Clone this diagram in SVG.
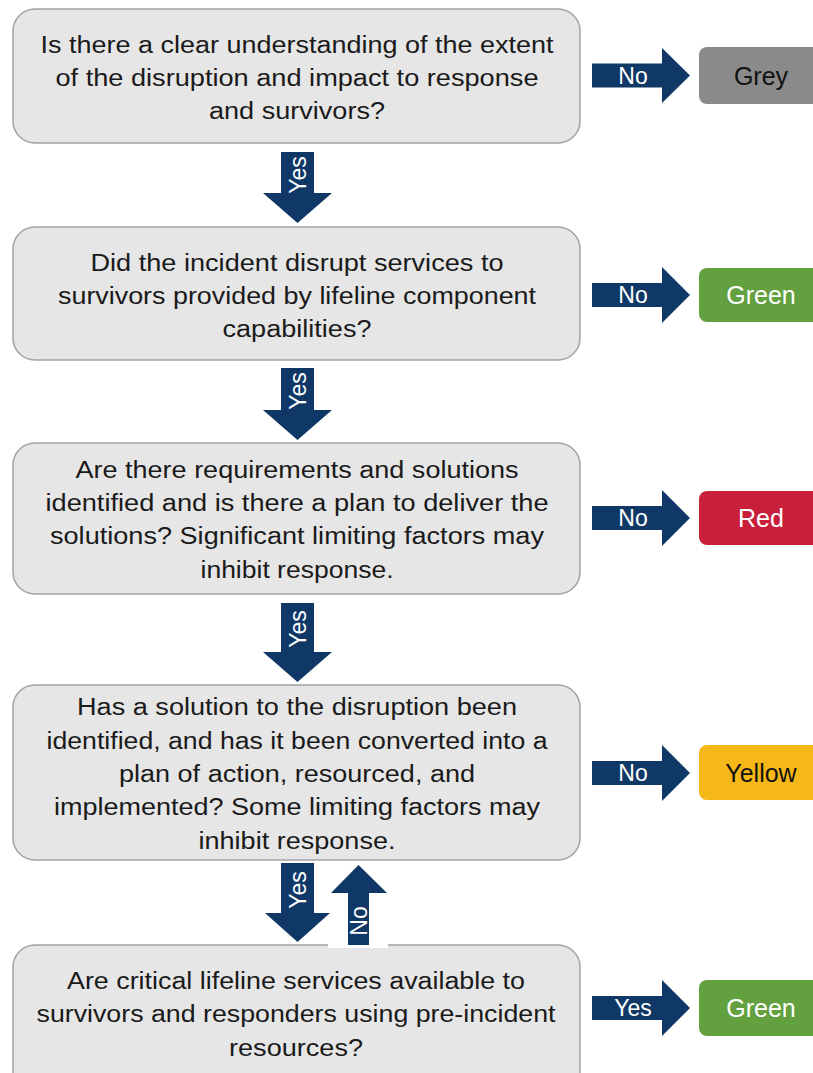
<svg xmlns="http://www.w3.org/2000/svg" width="813" height="1073" viewBox="0 0 813 1073">
<style>
.box{fill:#e6e6e6;stroke:#a3a3a3;stroke-width:1.5}
.q{font-family:"Liberation Sans",Arial,sans-serif;font-size:23px;fill:#1a1a1a;text-anchor:middle}
.arr{fill:#0f3867}
.al{font-family:"Liberation Sans",Arial,sans-serif;font-size:23px;fill:#fff;text-anchor:middle}
.res{font-family:"Liberation Sans",Arial,sans-serif;font-size:25px;text-anchor:middle}
</style>
<rect width="813" height="1073" fill="#fff"/>
<g id="q1">
<rect class="box" x="13" y="9" width="567" height="134" rx="22"/>
<text class="q" x="297" y="53" textLength="513" lengthAdjust="spacingAndGlyphs">Is there a clear understanding of the extent</text>
<text class="q" x="297" y="86" textLength="483" lengthAdjust="spacingAndGlyphs">of the disruption and impact to response</text>
<text class="q" x="297" y="119" textLength="176" lengthAdjust="spacingAndGlyphs">and survivors?</text>
</g>
<g id="q2">
<rect class="box" x="13" y="227" width="567" height="133" rx="22"/>
<text class="q" x="297" y="271" textLength="413" lengthAdjust="spacingAndGlyphs">Did the incident disrupt services to</text>
<text class="q" x="297" y="304" textLength="478" lengthAdjust="spacingAndGlyphs">survivors provided by lifeline component</text>
<text class="q" x="297" y="337" textLength="149" lengthAdjust="spacingAndGlyphs">capabilities?</text>
</g>
<g id="q3">
<rect class="box" x="13" y="443" width="567" height="151" rx="22"/>
<text class="q" x="297" y="478" textLength="443" lengthAdjust="spacingAndGlyphs">Are there requirements and solutions</text>
<text class="q" x="297" y="511" textLength="503" lengthAdjust="spacingAndGlyphs">identified and is there a plan to deliver the</text>
<text class="q" x="297" y="544" textLength="494" lengthAdjust="spacingAndGlyphs">solutions? Significant limiting factors may</text>
<text class="q" x="297" y="578" textLength="193" lengthAdjust="spacingAndGlyphs">inhibit response.</text>
</g>
<g id="q4">
<rect class="box" x="13" y="685" width="567" height="175" rx="22"/>
<text class="q" x="297" y="715" textLength="440" lengthAdjust="spacingAndGlyphs">Has a solution to the disruption been</text>
<text class="q" x="297" y="749" textLength="501" lengthAdjust="spacingAndGlyphs">identified, and has it been converted into a</text>
<text class="q" x="297" y="782" textLength="356" lengthAdjust="spacingAndGlyphs">plan of action, resourced, and</text>
<text class="q" x="297" y="815" textLength="486" lengthAdjust="spacingAndGlyphs">implemented? Some limiting factors may</text>
<text class="q" x="297" y="849" textLength="197" lengthAdjust="spacingAndGlyphs">inhibit response.</text>
</g>
<g id="q5">
<rect class="box" x="13" y="945" width="567" height="150" rx="22"/>
<rect x="328" y="938" width="60" height="10" fill="#fff"/>
<text class="q" x="296" y="989" textLength="458" lengthAdjust="spacingAndGlyphs">Are critical lifeline services available to</text>
<text class="q" x="296" y="1022" textLength="519" lengthAdjust="spacingAndGlyphs">survivors and responders using pre-incident</text>
<text class="q" x="296" y="1056" textLength="134" lengthAdjust="spacingAndGlyphs">resources?</text>
</g>
<g id="r1">
<rect x="699" y="47" width="130" height="57" rx="8" fill="#8a8a8a"/>
<text class="res" x="761" y="85" fill="#111">Grey</text>
</g>
<g id="r2">
<rect x="699" y="268" width="130" height="54" rx="8" fill="#63a03f"/>
<text class="res" x="761" y="304" fill="#fff">Green</text>
</g>
<g id="r3">
<rect x="699" y="491" width="130" height="54" rx="8" fill="#c8203a"/>
<text class="res" x="761" y="527" fill="#fff">Red</text>
</g>
<g id="r4">
<rect x="699" y="745" width="130" height="55" rx="8" fill="#f6b818"/>
<text class="res" x="761" y="782" fill="#111">Yellow</text>
</g>
<g id="r5">
<rect x="699" y="980" width="130" height="56" rx="8" fill="#63a03f"/>
<text class="res" x="761" y="1017" fill="#fff">Green</text>
</g>
<g id="connectors">
<polygon class="arr" points="592,63.5 662,63.5 662,48 690,75.5 662,103 662,87.5 592,87.5"/>
<text class="al" x="633" y="84">No</text>
<polygon class="arr" points="592,283 662,283 662,267 690,295 662,323 662,307 592,307"/>
<text class="al" x="633" y="303">No</text>
<polygon class="arr" points="592,506 662,506 662,490 690,518 662,546 662,530 592,530"/>
<text class="al" x="633" y="526">No</text>
<polygon class="arr" points="592,761 662,761 662,745 690,773 662,801 662,785 592,785"/>
<text class="al" x="633" y="781">No</text>
<polygon class="arr" points="592,996 662,996 662,980 690,1008 662,1036 662,1020 592,1020"/>
<text class="al" x="633" y="1016">Yes</text>
<polygon class="arr" points="281,152 314,152 314,193 332,193 297.5,223 263,193 281,193"/>
<text class="al" transform="translate(306,175) rotate(-90)">Yes</text>
<polygon class="arr" points="281,368 314,368 314,410 332,410 297.5,440 263,410 281,410"/>
<text class="al" transform="translate(306,391) rotate(-90)">Yes</text>
<polygon class="arr" points="281,603 314,603 314,652 332,652 297.5,682 263,652 281,652"/>
<text class="al" transform="translate(306,629) rotate(-90)">Yes</text>
<polygon class="arr" points="281,863 314,863 314,913 330,913 297.5,942 265,913 281,913"/>
<text class="al" transform="translate(306,890) rotate(-90)">Yes</text>
<polygon class="arr" points="348,945 369,945 369,893 387,893 358.5,865 331,893 348,893"/>
<text class="al" transform="translate(367,921) rotate(-90)">No</text>
</g>
</svg>
